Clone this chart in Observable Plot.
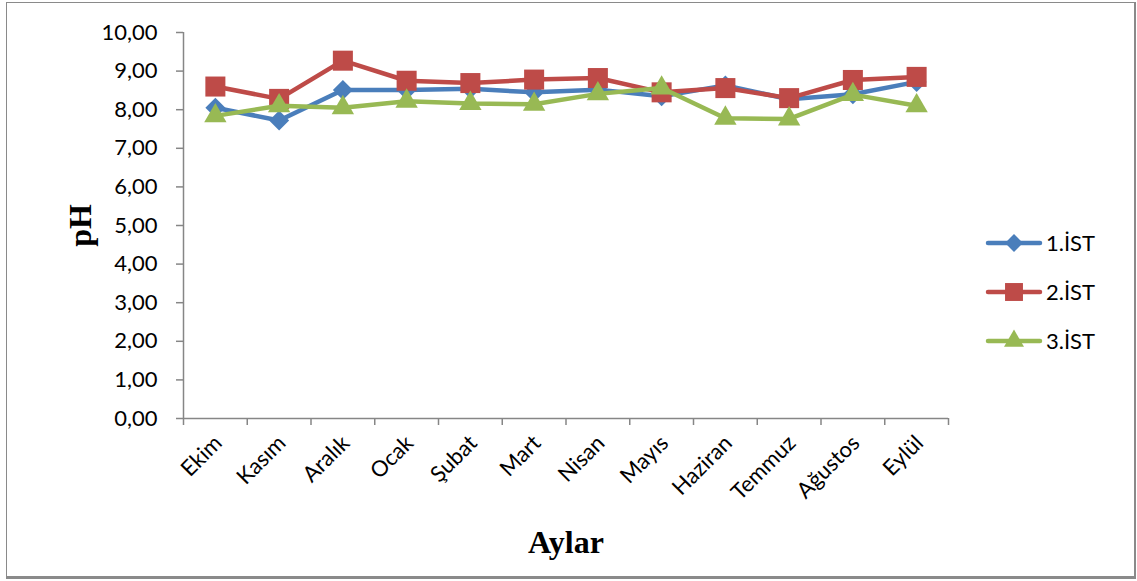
<!DOCTYPE html>
<html>
<head>
<meta charset="utf-8">
<script src="https://cdn.jsdelivr.net/npm/d3@7"></script>
<script src="https://cdn.jsdelivr.net/npm/@observablehq/plot@0.6"></script>
<style>
  html, body { margin: 0; padding: 0; background: #fff; }
  #wrap { position: relative; width: 1137px; height: 581px; overflow: hidden; }
  #frame {
    position: absolute; left: 6px; top: 2px; width: 1127px; height: 573px;
    border: 1.5px solid #8a8a8a; border-bottom-width: 3px; border-right-width: 2px;
    pointer-events: none;
  }
  #legend { position: absolute; left: 985px; top: 218px; font-family: Lato, sans-serif; font-size: 22px; color: #000; }
  .item { display: flex; align-items: center; height: 49px; }
  .item svg { margin-right: 3px; }
</style>
</head>
<body>
<div id="wrap">
  <div id="chart"></div>
  <div id="legend"></div>
  <div id="frame"></div>
</div>
<script>
// Monthly pH at three stations
const months = ["Ekim", "Kasım", "Aralık", "Ocak", "Şubat", "Mart", "Nisan", "Mayıs", "Haziran", "Temmuz", "Ağustos", "Eylül"];
const seriesNames = ["1.İST", "2.İST", "3.İST"];
const ist1 = [8.05, 7.72, 8.51, 8.51, 8.54, 8.45, 8.52, 8.35, 8.63, 8.27, 8.40, 8.72];
const ist2 = [8.60, 8.28, 9.27, 8.75, 8.69, 8.78, 8.82, 8.45, 8.56, 8.30, 8.77, 8.85];
const ist3 = [7.84, 8.10, 8.05, 8.22, 8.16, 8.14, 8.41, 8.56, 7.78, 7.76, 8.39, 8.10];
const yTicks = [0, 1, 2, 3, 4, 5, 6, 7, 8, 9, 10];

const colors = ["#4A7EBB", "#BE4B48", "#98B954"];
const symbols = ["diamond2", "square", "triangle"];
const radii = [9, 11.3, 8.3];
const values = [ist1, ist2, ist3];

const idx = months.map((_, i) => i);
const bounds = d3.range(months.length + 1).map(i => i - 0.5);
const fmt = d => d.toFixed(2).replace(".", ",");
const axisGray = "#868686";

const seriesMarks = values.flatMap((vals, s) => {
  const data = vals.map((v, i) => ({i, v}));
  return [
    Plot.line(data, {x: "i", y: "v", stroke: colors[s], strokeWidth: 4.5, strokeLinejoin: "round", strokeLinecap: "round"}),
    Plot.dot(data, {x: "i", y: "v", symbol: symbols[s], r: radii[s], fill: colors[s], stroke: "none"})
  ];
});

const chart = Plot.plot({
  width: 1137,
  height: 581,
  marginTop: 32,
  marginBottom: 163,
  marginLeft: 183,
  marginRight: 189,
  x: {type: "linear", domain: [-0.5, months.length - 0.5], axis: null},
  y: {domain: [0, 10], axis: null},
  style: {fontFamily: "Lato, sans-serif", fontSize: "22px", color: "#000", background: "white", overflow: "visible"},
  marks: [
    Plot.ruleY([0], {stroke: axisGray, strokeWidth: 1.5}),
    Plot.ruleX([-0.5], {stroke: axisGray, strokeWidth: 1.5}),
    Plot.axisY({ticks: yTicks, tickSize: 7, tickPadding: 19, tickFormat: fmt, stroke: axisGray, strokeWidth: 1.5, strokeOpacity: 1, fill: "#000", fontSize: 22, label: null}),
    Plot.axisX({ticks: bounds, tickSize: 7, tickFormat: () => "", stroke: axisGray, strokeWidth: 1.5, strokeOpacity: 1, label: null}),
    Plot.text(idx, {x: d => d, frameAnchor: "bottom", text: d => months[d], rotate: -45, textAnchor: "end", lineAnchor: "bottom", dx: 8, dy: 26, fontSize: 22, fill: "#000"}),
    Plot.text(["pH"], {frameAnchor: "left", textAnchor: "middle", dx: -103, rotate: -90, fontFamily: "Liberation Serif", fontWeight: "bold", fontSize: 32, fill: "#000"}),
    Plot.text(["Aylar"], {frameAnchor: "bottom", dy: 134, fontFamily: "Liberation Serif", fontWeight: "bold", fontSize: 32, fill: "#000"}),
    ...seriesMarks
  ]
});
document.getElementById("chart").appendChild(chart);

// Legend: line swatch with marker, then series name
const legend = d3.select("#legend");
const symbolTypes = {diamond2: d3.symbolDiamond2, square: d3.symbolSquare, triangle: d3.symbolTriangle};
seriesNames.forEach((name, s) => {
  const row = legend.append("div").attr("class", "item");
  const svg = row.append("svg").attr("width", 58).attr("height", 26);
  svg.append("line").attr("x1", 3).attr("x2", 55).attr("y1", 13).attr("y2", 13)
    .attr("stroke", colors[s]).attr("stroke-width", 4.5).attr("stroke-linecap", "round");
  svg.append("path").attr("transform", "translate(29,13)")
    .attr("d", d3.symbol(symbolTypes[symbols[s]], Math.PI * radii[s] * radii[s] * 0.8)())
    .attr("fill", colors[s]);
  row.append("span").text(name);
});
</script>
</body>
</html>
